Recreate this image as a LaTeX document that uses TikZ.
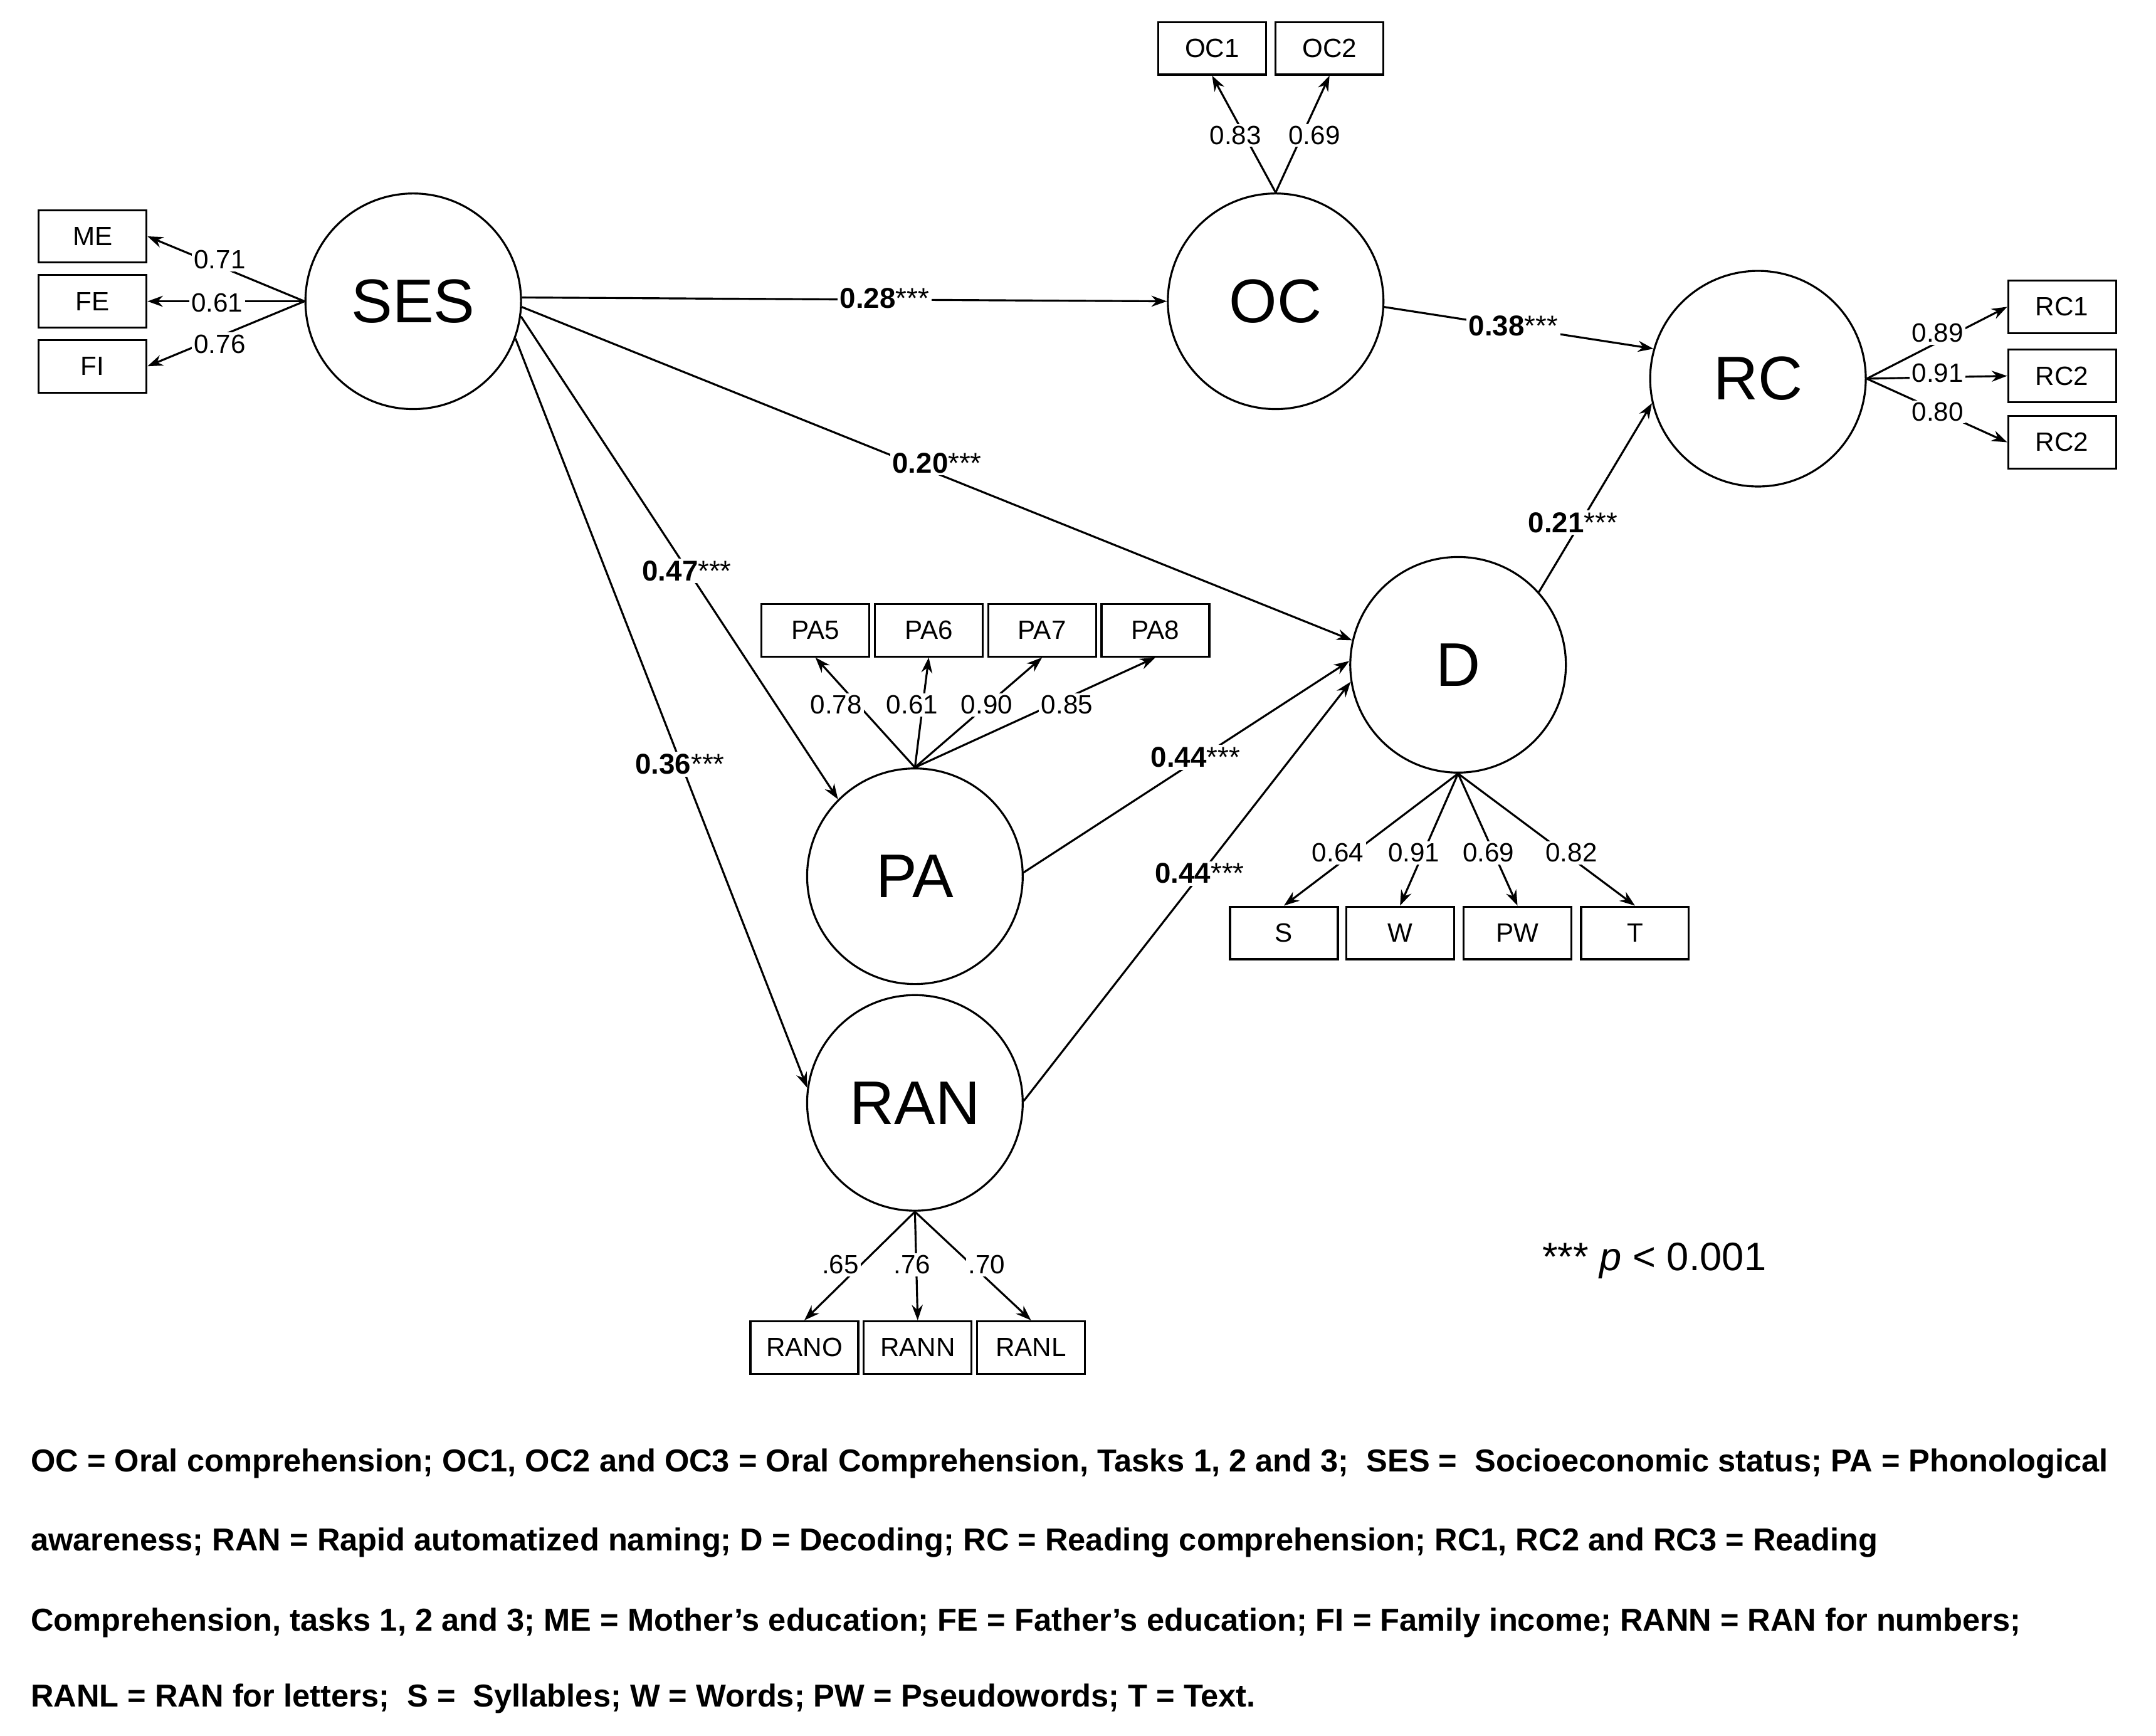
\documentclass[tikz,border=0pt]{standalone}
\usepackage{fontspec}
\setmainfont{Liberation Sans}
\usetikzlibrary{arrows.meta}
\begin{document}
\begin{tikzpicture}[x=0.022045cm,y=-0.022045cm,
 lat/.style={circle,draw,line width=0.9pt,inner sep=0pt,font=\fontsize{28}{30}\selectfont},
 ind/.style={draw,line width=0.9pt,inner sep=0pt,font=\fontsize{12}{14}\selectfont},
 ld/.style={font=\fontsize{12}{14}\selectfont,inner sep=1pt,fill=white},
 pl/.style={font=\fontsize{13}{15}\selectfont,inner sep=1pt},
 ar/.style={-{Stealth[length=7pt,width=5pt]},line width=0.9pt}]
\useasboundingbox (0,0) rectangle (1560,1256);
\pgfmathsetlengthmacro{\u}{0.022045cm}
\tikzset{lat/.append style={minimum size=156*\u},ind/.append style={minimum width=78*\u,minimum height=38*\u}}
\node[lat] (SES) at (299,218) {SES};
\node[lat] (OC) at (923,218) {OC};
\node[lat] (RC) at (1272,274) {RC};
\node[lat] (D) at (1055,481) {D};
\node[lat] (PA) at (662,634) {PA};
\node[lat] (RAN) at (662,798) {RAN};
\node[ind] (ME) at (67,171) {ME};
\node[ind] (FE) at (67,218) {FE};
\node[ind] (FI) at (67,265) {FI};
\node[ind] (OC1) at (877,35) {OC1};
\node[ind] (OC2) at (962,35) {OC2};
\node[ind] (RC1) at (1492,222) {RC1};
\node[ind] (RC2) at (1492,272) {RC2};
\node[ind] (RC3) at (1492,320) {RC2};
\node[ind] (PA5) at (590,456) {PA5};
\node[ind] (PA6) at (672,456) {PA6};
\node[ind] (PA7) at (754,456) {PA7};
\node[ind] (PA8) at (836,456) {PA8};
\node[ind] (S) at (929,675) {S};
\node[ind] (W) at (1013,675) {W};
\node[ind] (PW) at (1098,675) {PW};
\node[ind] (T) at (1183,675) {T};
\node[ind] (RANO) at (582,975) {RANO};
\node[ind] (RANN) at (664,975) {RANN};
\node[ind] (RANL) at (746,975) {RANL};
% loadings
\draw[ar] (SES.west) -- (ME.east);
\draw[ar] (SES.west) -- (FE.east);
\draw[ar] (SES.west) -- (FI.east);
\node[ld] at (159,188) {0.71};
\node[ld] at (157,219) {0.61};
\node[ld] at (159,249) {0.76};
\draw[ar] (OC.north) -- (OC1.south);
\draw[ar] (OC.north) -- (OC2.south);
\node[ld] at (894,98) {0.83};
\node[ld] at (951,98) {0.69};
\draw[ar] (RC.east) -- (RC1.west);
\draw[ar] (RC.east) -- (RC2.west);
\draw[ar] (RC.east) -- (RC3.west);
\node[ld] at (1402,241) {0.89};
\node[ld] at (1402,270) {0.91};
\node[ld] at (1402,298) {0.80};
\draw[ar] (PA.north) -- (PA5.south);
\draw[ar] (PA.north) -- (PA6.south);
\draw[ar] (PA.north) -- (PA7.south);
\draw[ar] (PA.north) -- (PA8.south);
\node[ld] at (605,510) {0.78};
\node[ld] at (660,510) {0.61};
\node[ld] at (714,510) {0.90};
\node[ld] at (772,510) {0.85};
\draw[ar] (D.south) -- (S.north);
\draw[ar] (D.south) -- (W.north);
\draw[ar] (D.south) -- (PW.north);
\draw[ar] (D.south) -- (T.north);
\node[ld] at (968,617) {0.64};
\node[ld] at (1023,617) {0.91};
\node[ld] at (1077,617) {0.69};
\node[ld] at (1137,617) {0.82};
\draw[ar] (RAN.south) -- (RANO.north);
\draw[ar] (RAN.south) -- (RANN.north);
\draw[ar] (RAN.south) -- (RANL.north);
\node[ld] at (608,915) {.65};
\node[ld] at (660,915) {.76};
\node[ld] at (714,915) {.70};
% structural
\draw[ar] (SES.2) -- (OC.180);
\node[pl,fill=white] at (640,216) {\textbf{0.28}***};
\draw[ar] (OC.-3) -- (RC.164);
\node[pl,fill=white] at (1095,236) {\textbf{0.38}***};
\draw[ar] (SES.-3) -- (D.167);
\node[pl,fill=white] at (678,335) {\textbf{0.20}***};
\draw[ar] (SES.-8) -- (PA.135);
\node[pl,fill=white] at (497,413) {\textbf{0.47}***};
\draw[ar] (SES.-20) -- (RAN.172);
\node[pl,fill=white] at (492,553) {\textbf{0.36}***};
\draw[ar] (PA.2) -- (D.178);
\node[pl,fill=white] at (865,548) {\textbf{0.44}***};
\draw[ar] (RAN.1) -- (D.189);
\node[pl,fill=white] at (868,632) {\textbf{0.44}***};
\draw[ar] (D.42) -- (RC.193);
\node[pl,fill=white] at (1138,378) {\textbf{0.21}***};
\node[font=\fontsize{18}{20}\selectfont] (leg) at (1197,912) {*** \textit{p} < 0.001};
% footer
\begin{scope}[every node/.style={anchor=west,inner sep=0pt,font=\bfseries\fontsize{14.4}{16}\selectfont}]
\node (f1) at (22,1059) {OC = Oral comprehension; OC1, OC2 and OC3 = Oral Comprehension, Tasks 1, 2 and 3;\ \ SES = \ Socioeconomic status; PA = Phonological};
\node (f2) at (22,1116) {awareness; RAN = Rapid automatized naming; D = Decoding; RC = Reading comprehension; RC1, RC2 and RC3 = Reading};
\node (f3) at (22,1174) {Comprehension, tasks 1, 2 and 3; ME = Mother’s education; FE = Father’s education; FI = Family income; RANN = RAN for numbers;};
\node (f4) at (22,1229) {RANL = RAN for letters;\ \ S = \ Syllables; W = Words; PW = Pseudowords; T = Text.};
\end{scope}
\end{tikzpicture}
\end{document}
